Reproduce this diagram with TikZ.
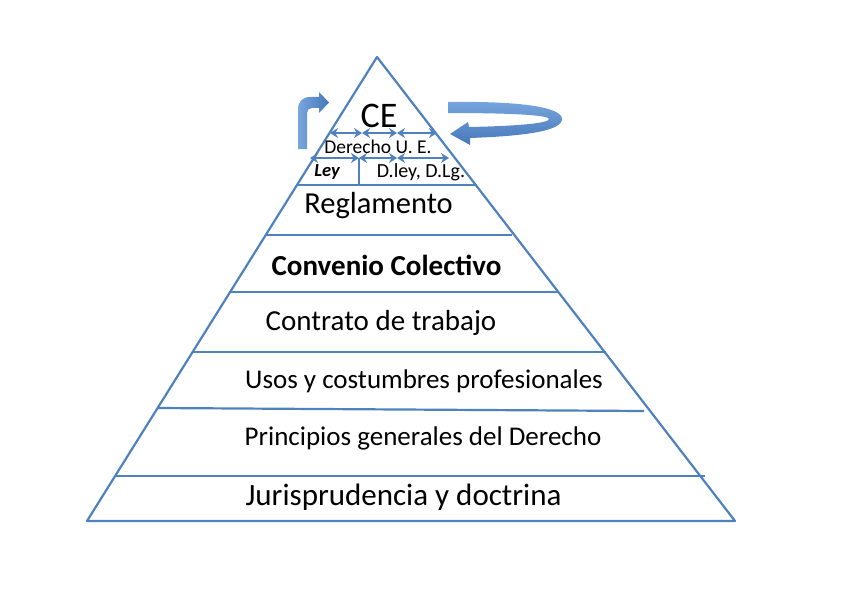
\documentclass[tikz,border=0pt]{standalone}
\usepackage{fontspec}
\setmainfont{Carlito}
\usetikzlibrary{arrows.meta}
\definecolor{pblue}{RGB}{79,129,189}
\definecolor{alight}{RGB}{120,165,222}
\definecolor{adark}{RGB}{70,120,185}
\tikzset{
  edge/.style={draw=pblue,line width=2.2pt},
  dbl/.style={draw=pblue,line width=2.1pt,{Stealth[length=8pt,width=10pt]}-{Stealth[length=8pt,width=10pt]}},
  lbl/.style={inner sep=0pt,text=black},
  vgrad/.style={top color=alight,bottom color=adark,draw=none},
  hgrad/.style={left color=alight,right color=adark,draw=none}
}
\begin{document}
\begin{tikzpicture}[x=1pt,y=-1pt]
\useasboundingbox (0,0) rectangle (848,599);
% pyramid corners
\coordinate (apex) at (377,57);
\coordinate (bl) at (87,521);
\coordinate (br) at (735,521);
\draw[edge,line join=round] (bl) -- (apex) -- (br) -- cycle;
% level lines
\coordinate (l1a) at (296,185); \coordinate (l1b) at (477,185);
\coordinate (l2a) at (265,235); \coordinate (l2b) at (512,235);
\coordinate (l3a) at (229,292); \coordinate (l3b) at (559,292);
\coordinate (l4a) at (193,352); \coordinate (l4b) at (606,352);
\coordinate (l5a) at (157,408); \coordinate (l5b) at (644,411);
\coordinate (l6a) at (115,476); \coordinate (l6b) at (705,476);
\foreach \i in {1,...,6} {\draw[edge] (l\i a) -- (l\i b);}
% divider in Ley row
\coordinate (dv1) at (359,158); \coordinate (dv2) at (359,185);
\draw[edge,line width=1.8pt] (dv1) -- (dv2);
% double arrows row 1
\coordinate (r1a) at (330,133); \coordinate (r1b) at (362,133);
\coordinate (r1c) at (397,133); \coordinate (r1d) at (437,133);
\draw[dbl] (r1a) -- (r1b);
\draw[dbl] (r1b) -- (r1c);
\draw[dbl] (r1c) -- (r1d);
% double arrows row 2
\coordinate (r2a) at (310,158); \coordinate (r2b) at (359,158);
\coordinate (r2c) at (397,158); \coordinate (r2d) at (449,158);
\draw[dbl] (r2a) -- (r2b);
\draw[dbl] (r2b) -- (r2c);
\draw[dbl] (r2c) -- (r2d);
% texts
\node[lbl,font=\fontsize{36}{38}\selectfont] (ce) at (379,116) {CE};
\node[lbl,font=\fontsize{19.5}{21}\selectfont] (due) at (378,147) {Derecho U.~E.};
\node[lbl,font=\fontsize{18.5}{20}\selectfont\bfseries\itshape] (ley) at (327,172) {Ley};
\node[lbl,font=\fontsize{20}{22}\selectfont] (dley) at (421,172) {D.ley, D.Lg.};
\node[lbl,font=\fontsize{30.5}{32}\selectfont] (regl) at (378.5,206) {Reglamento};
\node[lbl,font=\fontsize{29}{31}\selectfont\bfseries] (conv) at (386.5,265) {Convenio Colectivo};
\node[lbl,font=\fontsize{29}{31}\selectfont] (contr) at (381,323) {Contrato de trabajo};
\node[lbl,font=\fontsize{27}{29}\selectfont] (usos) at (424,381) {Usos y costumbres profesionales};
\node[lbl,font=\fontsize{27}{29}\selectfont] (princ) at (423,438) {Principios generales del Derecho};
\node[lbl,font=\fontsize{31}{33}\selectfont] (juris) at (403.5,497) {Jurisprudencia y doctrina};
% bent-up arrow (left)
\path[hgrad]
  (298,149) -- (298,110) .. controls (298,102) and (302,97) .. (310,97)
  -- (319,97) -- (319,92) -- (329,102.5) -- (319,113) -- (319,108)
  -- (312,108) .. controls (309,108) and (307,110) .. (307,113)
  -- (307,149) -- cycle;
% circular arrow (right)
\path[vgrad]
  (448,102) .. controls (520,101) and (562,107) .. (562,119)
  .. controls (562,131) and (525,136) .. (470,138)
  -- (470,145) -- (450,134) -- (468,122) -- (469,127)
  .. controls (520,126) and (549,123) .. (549,119)
  .. controls (549,115) and (510,113) .. (448,113) -- cycle;
\end{tikzpicture}
\end{document}
